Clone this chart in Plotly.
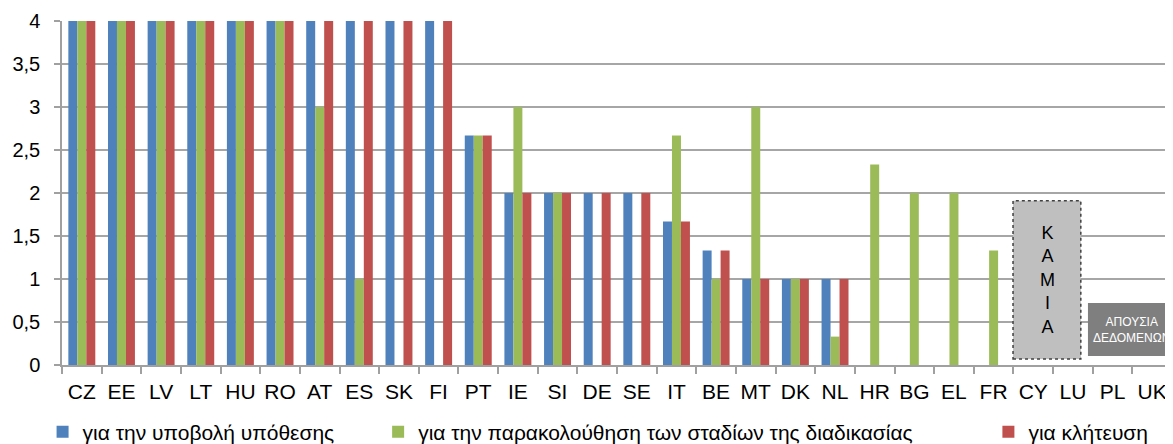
import plotly.graph_objects as go

categories = ["CZ", "EE", "LV", "LT", "HU", "RO", "AT", "ES", "SK", "FI", "PT", "IE", "SI", "DE",
              "SE", "IT", "BE", "MT", "DK", "NL", "HR", "BG", "EL", "FR", "CY", "LU", "PL", "UK"]

submit_case = [4, 4, 4, 4, 4, 4, 4, 4, 4, 4, 2.67, 2, 2, 2, 2, 1.67, 1.33, 1, 1, 1,
               None, None, None, None, None, None, None, None]
follow_stages = [4, 4, 4, 4, 4, 4, 3, 1, None, None, 2.67, 3, 2, None, None, 2.67, 1, 3, 1, 0.33,
                 2.33, 2, 2, 1.33, None, None, None, None]
summons = [4, 4, 4, 4, 4, 4, 4, 4, 4, 4, 2.67, 2, 2, 2, 2, 1.67, 1.33, 1, 1, 1,
           None, None, None, None, None, None, None, None]

series_names = ["για την υποβολή υπόθεσης",
                "για την παρακολούθηση των σταδίων της διαδικασίας",
                "για κλήτευση"]
series_colors = ["#4F81BD", "#9BBB59", "#C0504D"]
legend_ids = ["legend", "legend2", "legend3"]
legend_x = [-0.0175, 0.2848, 0.8346]

FONT = "Liberation Sans, Arial, sans-serif"

fig = go.Figure()
for name, vals, col, lg in zip(series_names, [submit_case, follow_stages, summons], series_colors, legend_ids):
    fig.add_trace(go.Bar(x=categories, y=vals, name=name, legend=lg,
                         marker=dict(color=col, line=dict(width=0))))

# "ΚΑΜΙΑ" box (CY–LU)
fig.add_shape(type="rect", xref="x", yref="y", x0=23.49, x1=25.2, y0=0.07, y1=1.91,
              fillcolor="#BFBFBF", line=dict(color="#404040", width=1.5, dash="dot"), layer="above")
fig.add_annotation(xref="x", yref="y", x=24.35, y=0.99, text="Κ<br>Α<br>Μ<br>Ι<br>Α",
                   showarrow=False, font=dict(family=FONT, size=18, color="#000000"))
# "ΑΠΟΥΣΙΑ ΔΕΔΟΜΕΝΩΝ" box (PL–UK)
fig.add_shape(type="rect", xref="x", yref="y", x0=25.38, x1=27.9, y0=0.105, y1=0.72,
              fillcolor="#7F7F7F", line=dict(width=0), layer="above")
fig.add_annotation(xref="x", yref="y", x=26.47, y=0.41, text="ΑΠΟΥΣΙΑ<br>ΔΕΔΟΜΕΝΩΝ",
                   showarrow=False, font=dict(family=FONT, size=12, color="#FFFFFF"))

legend_common = dict(orientation="h", xanchor="left", y=-0.195, yanchor="middle",
                     font=dict(family=FONT, size=21, color="#000000"),
                     itemclick=False, itemdoubleclick=False, bgcolor="rgba(0,0,0,0)", borderwidth=0)
# the page body has an 8px default margin, so the figure is sized/offset to compensate
fig.update_layout(
    width=1165, height=436,
    margin=dict(l=54, r=1, t=13, b=79, autoexpand=False),
    paper_bgcolor="white", plot_bgcolor="white",
    barmode="group", bargap=0.32, bargroupgap=0,
    separators=", ",
    font=dict(family=FONT, color="#000000"),
    showlegend=True,
    legend=dict(x=legend_x[0], **legend_common),
    legend2=dict(x=legend_x[1], **legend_common),
    legend3=dict(x=legend_x[2], **legend_common),
)
fig.update_xaxes(type="category", range=[-0.5, 27.5], showgrid=False, automargin=False,
                 showline=True, linecolor="#A0A0A0", linewidth=1.5, tickangle=0,
                 ticks="outside", tickson="boundaries", ticklen=7, tickcolor="#A0A0A0", tickwidth=1.5,
                 ticklabelstandoff=7,
                 tickfont=dict(family=FONT, size=21, color="#000000"))
fig.update_yaxes(range=[0, 4], dtick=0.5, tick0=0, showgrid=True, gridcolor="#A6A6A6", gridwidth=1.5,
                 showline=True, linecolor="#A0A0A0", linewidth=1.5, zeroline=False, automargin=False,
                 ticks="outside", ticklen=6, tickcolor="#A0A0A0", tickwidth=1.5,
                 ticklabelstandoff=10,
                 tickfont=dict(family=FONT, size=20, color="#000000"))

fig.write_html("out.html")
